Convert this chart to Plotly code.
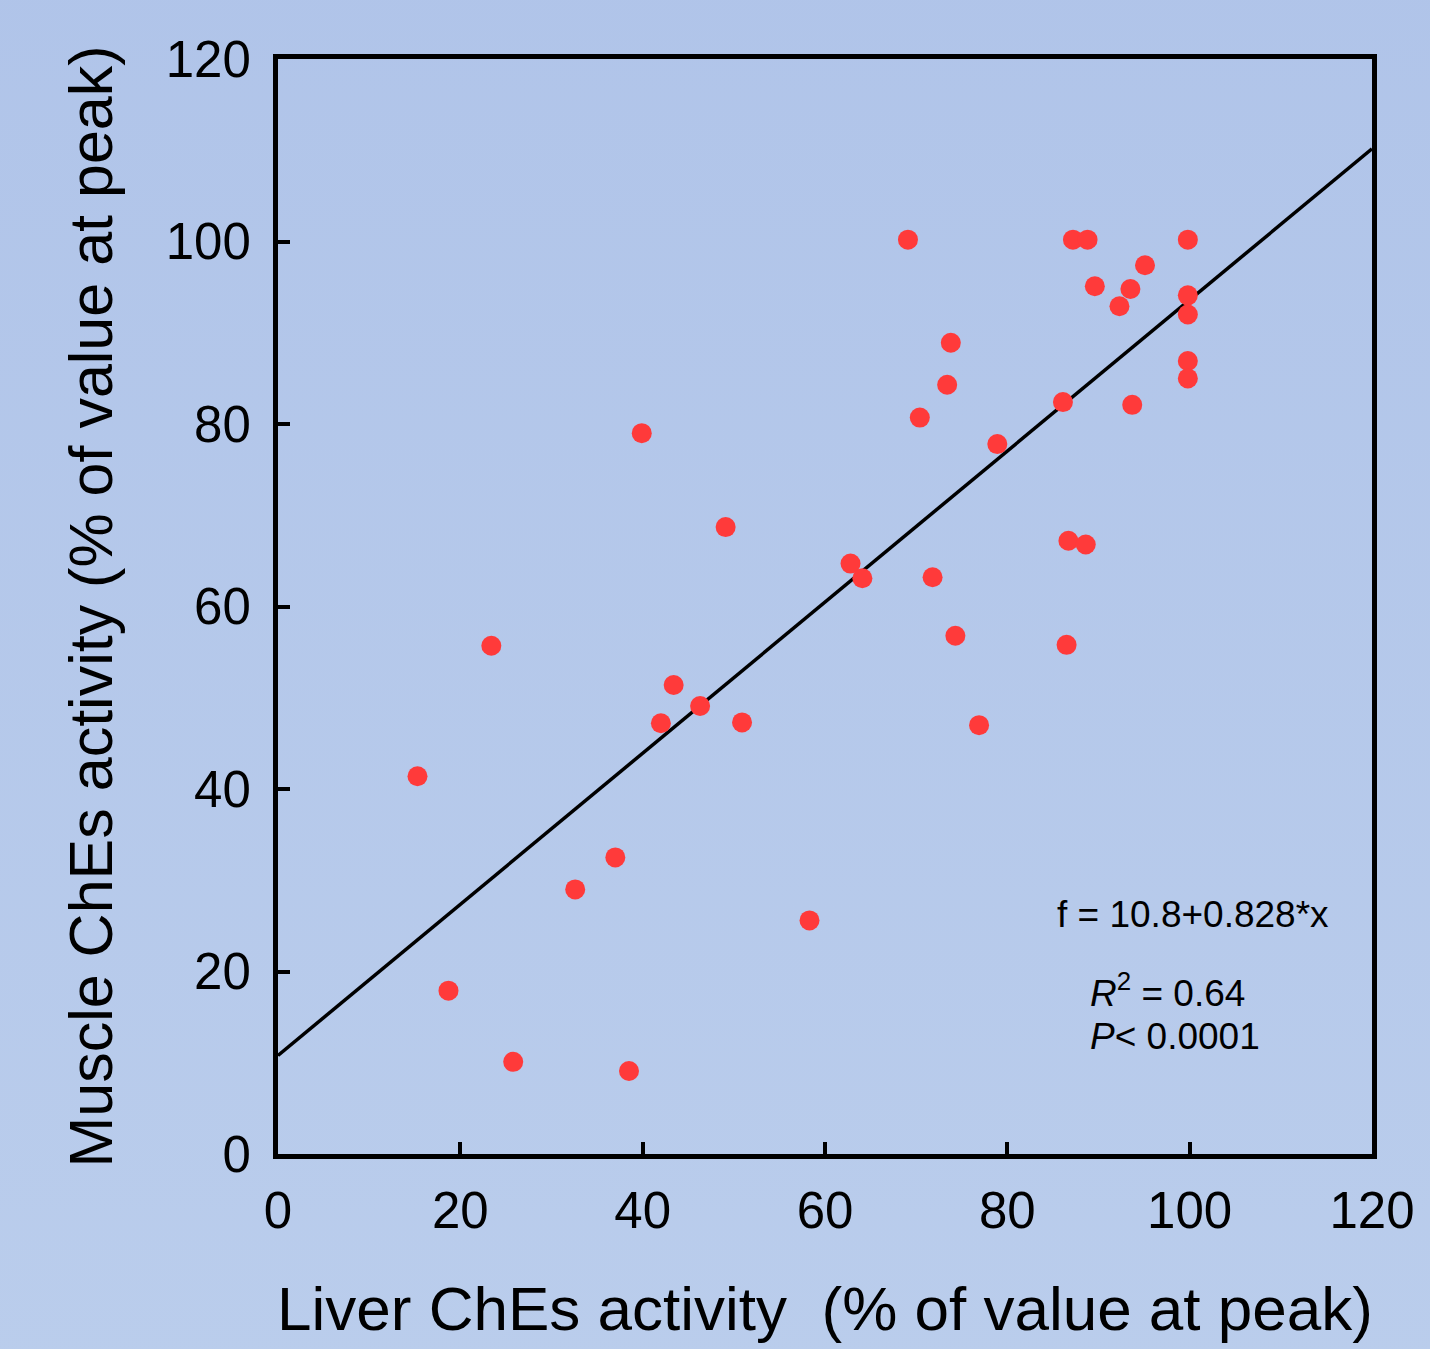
import plotly.graph_objects as go
import numpy as np

# Data
liver = [15.3, 18.7, 23.4, 25.8, 32.6, 37.0, 38.5, 39.9, 42.0, 43.4,
         46.3, 49.1, 50.9, 58.3, 62.8, 64.1, 69.1, 70.4, 71.8, 73.4,
         73.8, 74.3, 76.9, 78.9, 86.1, 86.5, 86.7, 87.2, 88.6, 88.8,
         89.6, 92.3, 93.5, 93.7, 95.1, 99.8, 99.8, 99.8, 99.8, 99.8]
muscle = [41.4, 17.9, 55.7, 10.1, 29.0, 32.5, 9.1, 79.0, 47.2, 51.4,
          49.1, 68.7, 47.3, 25.6, 64.7, 63.1, 100.2, 80.7, 63.2, 84.3,
          88.9, 56.8, 47.0, 77.8, 82.4, 55.8, 67.2, 100.2, 66.8, 100.2,
          95.1, 92.9, 94.8, 82.1, 97.4, 100.2, 94.1, 92.0, 86.9, 85.0]

intercept = 10.8
slope = 0.828
r_squared = 0.64
p_text = "< 0.0001"
axis_range = [0, 120]
tick_vals = [0, 20, 40, 60, 80, 100, 120]

fit_x = np.array(axis_range, dtype=float)
fit_y = intercept + slope * fit_x

fig = go.Figure()
fig.add_trace(go.Scatter(x=fit_x, y=fit_y, mode="lines",
                         line=dict(color="black", width=3.5),
                         hoverinfo="skip", showlegend=False, cliponaxis=True))
fig.add_trace(go.Scatter(x=liver, y=muscle, mode="markers",
                         marker=dict(color="#FF3A3A", size=20, line=dict(width=0)),
                         showlegend=False))

grad_svg = ("data:image/svg+xml;utf8,"
            "<svg xmlns='http://www.w3.org/2000/svg' width='10' height='10' preserveAspectRatio='none'>"
            "<defs><linearGradient id='g' x1='0' y1='0' x2='0' y2='1'>"
            "<stop offset='0' stop-color='%23B0C4E9'/><stop offset='1' stop-color='%23BACDEC'/>"
            "</linearGradient></defs><rect width='10' height='10' fill='url(%23g)'/></svg>")

font_family = "Liberation Sans, Arial, sans-serif"

fig.update_layout(
    width=1430, height=1349,
    margin=dict(l=278, r=58, t=59, b=195),
    paper_bgcolor="#B5C8EA",
    plot_bgcolor="rgba(0,0,0,0)",
    font=dict(family=font_family, color="black"),
    images=[dict(source=grad_svg, xref="paper", yref="paper", x=-0.3, y=1.1,
                 sizex=1.6, sizey=1.3, sizing="stretch", layer="below",
                 xanchor="left", yanchor="top")],
    showlegend=False,
)

axis_common = dict(
    range=axis_range, tickvals=tick_vals, ticks="inside", ticklen=12, tickwidth=4,
    tickcolor="black", showline=True, linewidth=5, linecolor="black", mirror=True,
    showgrid=False, zeroline=False, tickfont=dict(size=51, family=font_family),
)
fig.update_xaxes(**axis_common, ticklabelstandoff=8,
                 title=dict(text="Liver ChEs activity\u00a0 (% of value at peak)",
                            font=dict(size=62, family=font_family), standoff=50))
fig.update_yaxes(**axis_common, ticklabelstandoff=12,
                 title=dict(text="Muscle ChEs activity (% of value at peak)",
                            font=dict(size=61, family=font_family), standoff=35))

ann_font = dict(size=37, family=font_family, color="black")
fig.add_annotation(x=85.2, y=26.2, xref="x", yref="y", xanchor="left", yanchor="middle",
                   text=f"f = {intercept}+{slope}*x", showarrow=False, font=ann_font)
fig.add_annotation(x=88.8, y=17.9, xref="x", yref="y", xanchor="left", yanchor="middle",
                   text=f"<i>R</i><sup>2</sup> = {r_squared}", showarrow=False, font=ann_font)
fig.add_annotation(x=88.8, y=12.9, xref="x", yref="y", xanchor="left", yanchor="middle",
                   text=f"<i>P</i>{p_text}", showarrow=False, font=ann_font)

fig.write_html("out.html", config={"displayModeBar": False},
               post_script="document.body.style.margin='0';")
